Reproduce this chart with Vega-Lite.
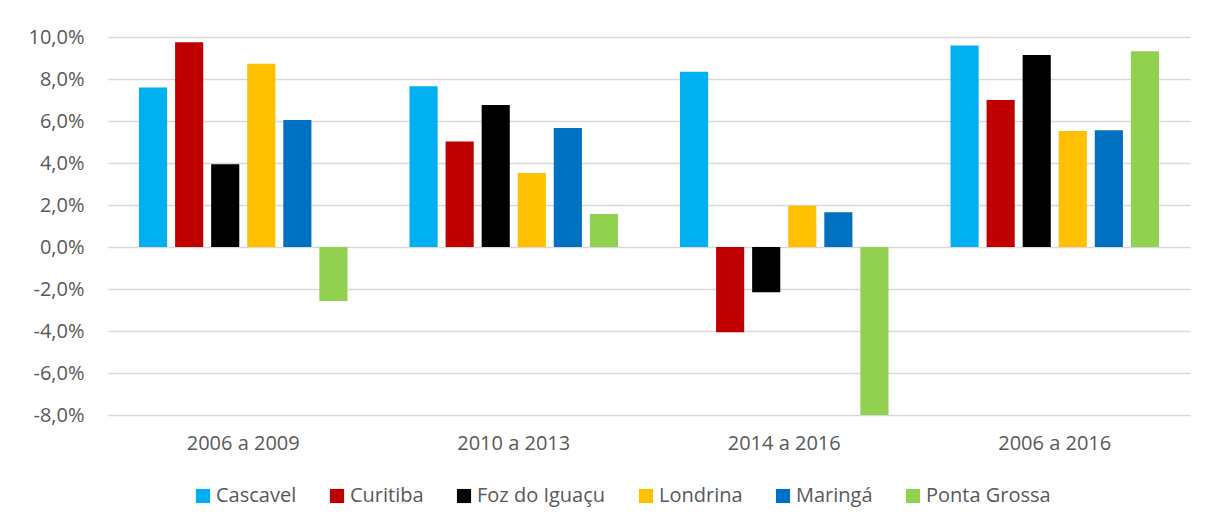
{
  "$schema": "https://vega.github.io/schema/vega-lite/v6.json",
  "width": 1082,
  "height": 378,
  "autosize": "none",
  "padding": {"left": 108, "top": 37, "right": 27, "bottom": 117},
  "background": "white",
  "data": {
    "values": [
      {"periodo": "2006 a 2009", "cidade": "Cascavel", "taxa": 7.59},
      {"periodo": "2006 a 2009", "cidade": "Curitiba", "taxa": 9.75},
      {"periodo": "2006 a 2009", "cidade": "Foz do Iguaçu", "taxa": 3.94},
      {"periodo": "2006 a 2009", "cidade": "Londrina", "taxa": 8.73},
      {"periodo": "2006 a 2009", "cidade": "Maringá", "taxa": 6.05},
      {"periodo": "2006 a 2009", "cidade": "Ponta Grossa", "taxa": -2.57},
      {"periodo": "2010 a 2013", "cidade": "Cascavel", "taxa": 7.65},
      {"periodo": "2010 a 2013", "cidade": "Curitiba", "taxa": 5.02},
      {"periodo": "2010 a 2013", "cidade": "Foz do Iguaçu", "taxa": 6.76},
      {"periodo": "2010 a 2013", "cidade": "Londrina", "taxa": 3.52},
      {"periodo": "2010 a 2013", "cidade": "Maringá", "taxa": 5.67},
      {"periodo": "2010 a 2013", "cidade": "Ponta Grossa", "taxa": 1.57},
      {"periodo": "2014 a 2016", "cidade": "Cascavel", "taxa": 8.35},
      {"periodo": "2014 a 2016", "cidade": "Curitiba", "taxa": -4.06},
      {"periodo": "2014 a 2016", "cidade": "Foz do Iguaçu", "taxa": -2.16},
      {"periodo": "2014 a 2016", "cidade": "Londrina", "taxa": 1.97},
      {"periodo": "2014 a 2016", "cidade": "Maringá", "taxa": 1.65},
      {"periodo": "2014 a 2016", "cidade": "Ponta Grossa", "taxa": -8.03},
      {"periodo": "2006 a 2016", "cidade": "Cascavel", "taxa": 9.59},
      {"periodo": "2006 a 2016", "cidade": "Curitiba", "taxa": 7.0},
      {"periodo": "2006 a 2016", "cidade": "Foz do Iguaçu", "taxa": 9.14},
      {"periodo": "2006 a 2016", "cidade": "Londrina", "taxa": 5.52},
      {"periodo": "2006 a 2016", "cidade": "Maringá", "taxa": 5.56},
      {"periodo": "2006 a 2016", "cidade": "Ponta Grossa", "taxa": 9.32}
    ]
  },
  "mark": {"type": "bar", "clip": true},
  "encoding": {
    "x": {
      "field": "periodo",
      "type": "nominal",
      "sort": ["2006 a 2009", "2010 a 2013", "2014 a 2016", "2006 a 2016"],
      "scale": {"paddingInner": 0.2, "paddingOuter": 0.1},
      "axis": {
        "title": null,
        "labelAngle": 0,
        "domain": false,
        "ticks": false,
        "labelPadding": 18,
        "labelFont": "Open Sans",
        "labelFontSize": 20,
        "labelColor": "#595959"
      }
    },
    "xOffset": {
      "field": "cidade",
      "type": "nominal",
      "sort": ["Cascavel", "Curitiba", "Foz do Iguaçu", "Londrina", "Maringá", "Ponta Grossa"],
      "scale": {"paddingInner": 0.22, "paddingOuter": 0.11}
    },
    "y": {
      "field": "taxa",
      "type": "quantitative",
      "scale": {"domain": [-8, 10], "nice": false, "zero": false},
      "axis": {
        "title": null,
        "values": [-8, -6, -4, -2, 0, 2, 4, 6, 8, 10],
        "labelExpr": "replace(replace(format(datum.value, '.1f'), '.', ','), '−', '-') + '%'",
        "domain": false,
        "ticks": false,
        "labelPadding": 24,
        "labelFont": "Open Sans",
        "labelFontSize": 20,
        "labelColor": "#595959",
        "gridColor": "#D9D9D9",
        "gridWidth": 1.3
      }
    },
    "color": {
      "field": "cidade",
      "type": "nominal",
      "sort": ["Cascavel", "Curitiba", "Foz do Iguaçu", "Londrina", "Maringá", "Ponta Grossa"],
      "scale": {
        "domain": ["Cascavel", "Curitiba", "Foz do Iguaçu", "Londrina", "Maringá", "Ponta Grossa"],
        "range": ["#00B0F0", "#C00000", "#000000", "#FFC000", "#0070C0", "#92D050"]
      },
      "legend": {
        "title": null,
        "orient": "none",
        "direction": "horizontal",
        "legendX": 85,
        "legendY": 449,
        "symbolType": "square",
        "symbolSize": 200,
        "symbolStrokeWidth": 0,
        "labelFont": "Open Sans",
        "labelFontSize": 20,
        "labelColor": "#595959",
        "labelOffset": 3,
        "columnPadding": 30
      }
    }
  },
  "config": {
    "view": {"stroke": null}
  }
}
